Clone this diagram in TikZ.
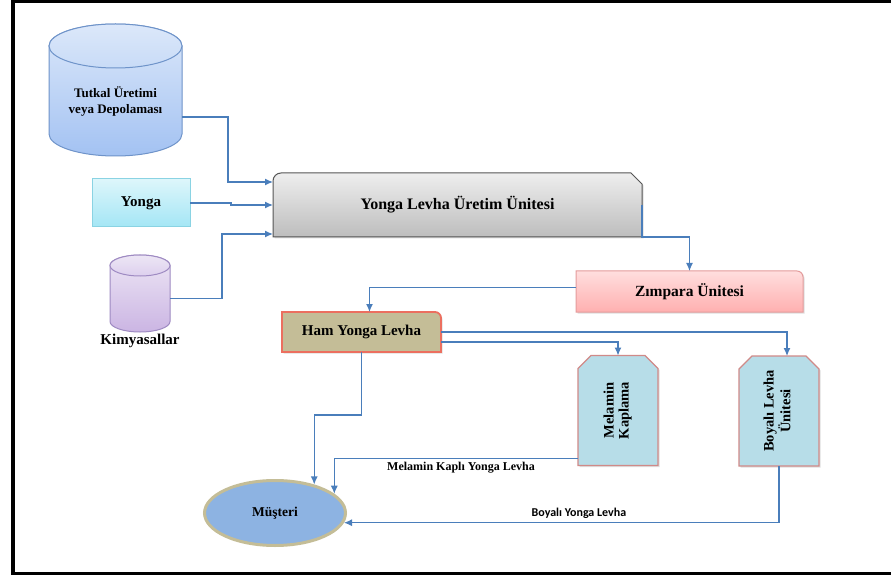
\documentclass[tikz,border=0pt]{standalone}
\usepackage{fontspec}
\setmainfont{Liberation Serif}
\newfontfamily\carlito{Carlito}
\usetikzlibrary{shapes.geometric,arrows.meta,backgrounds,shadows}

\definecolor{linkblue}{HTML}{4A7EBB}
\definecolor{tutkaltop}{HTML}{DCE8FA}
\definecolor{tutkalbot}{HTML}{A3C2F2}
\definecolor{tutkallid}{HTML}{C8DBF7}
\definecolor{tutkalrim}{HTML}{6E93C9}
\definecolor{yongatop}{HTML}{DDF6FB}
\definecolor{yongabot}{HTML}{A4E6F5}
\definecolor{yongarim}{HTML}{8AD3E3}
\definecolor{kimyatop}{HTML}{EDE6F5}
\definecolor{kimyabot}{HTML}{CBB5E3}
\definecolor{kimyalid}{HTML}{DDD0EE}
\definecolor{kimyarim}{HTML}{9E8AC2}
\definecolor{maintop}{HTML}{EEEEEE}
\definecolor{mainbot}{HTML}{BDBDBD}
\definecolor{mainrim}{HTML}{555555}
\definecolor{zimtop}{HTML}{FFDEDE}
\definecolor{zimbot}{HTML}{FFB0B0}
\definecolor{zimrim}{HTML}{E49C9C}
\definecolor{hamfill}{HTML}{C4BD97}
\definecolor{hamrim}{HTML}{EC6F5F}
\definecolor{towerfill}{HTML}{B7DDE8}
\definecolor{towerrim}{HTML}{D08A88}
\definecolor{musterifill}{HTML}{8DB3E2}
\definecolor{musteririm}{HTML}{C4BD97}

\tikzstyle{hole} = [rectangle, inner sep=0, outer sep=0, align=center]
\tikzstyle{flow} = [draw=linkblue, line width=1.2pt, -{Latex[length=8pt,width=7pt]}]
\tikzstyle{castshadow} = [drop shadow={opacity=0.25, shadow xshift=1.5pt, shadow yshift=-1.5pt}]
\tikzstyle{tower} = [draw=towerrim, line width=1.3pt, fill=towerfill]

\begin{document}
\begin{tikzpicture}[x=1pt,y=-1pt]
\useasboundingbox (0,0) rectangle (891,577);

% inputs
\node (tutkal) [hole, minimum width=133pt, minimum height=110pt, font=\fontsize{13}{16}\selectfont\bfseries] at (115.5,101) {Tutkal Üretimi\\veya Depolaması};
\node (yonga) [hole, minimum width=98pt, minimum height=48pt, font=\fontsize{15}{17}\selectfont\bfseries] at (141,203) {Yonga};
\node (kimya) [hole, minimum width=60pt, minimum height=66.5pt, label={[name=kimyaname, font=\fontsize{15}{17}\selectfont\bfseries, inner sep=2pt]below:Kimyasallar}] at (140,298.75) {};

% units
\node (ylu) [hole, minimum width=369pt, minimum height=64pt, font=\fontsize{16}{18}\selectfont\bfseries] at (457.5,205) {Yonga Levha Üretim Ünitesi};
\node (zimpara) [hole, minimum width=227pt, minimum height=41pt, font=\fontsize{15.5}{17}\selectfont\bfseries] at (689.5,291.5) {Zımpara Ünitesi};
\node (ham) [hole, minimum width=159pt, minimum height=40pt, font=\fontsize{15}{17}\selectfont\bfseries] at (361.5,332) {Ham Yonga Levha};
\node (melamin) [hole, minimum width=80pt, minimum height=110pt, font=\fontsize{14.5}{15}\selectfont\bfseries] at (618,410.5) {\rotatebox{90}{\begin{tabular}{@{}c@{}}Melamin\\Kaplama\end{tabular}}};
\node (boyali) [hole, minimum width=80pt, minimum height=110pt, font=\fontsize{14.5}{15}\selectfont\bfseries] at (779,411) {\rotatebox{90}{\begin{tabular}{@{}c@{}}Boyalı Levha\\Ünitesi\end{tabular}}};
\node (musteri) [ellipse, draw=musteririm, line width=3pt, fill=musterifill, minimum width=141pt, minimum height=65pt, inner sep=0, font=\fontsize{13.5}{16}\selectfont\bfseries] at (275,513) {Müşteri};

\begin{pgfonlayer}{background}
\fill[white] (0,0) rectangle (891,577);
% cylinders
\path[draw=tutkalrim, line width=1pt, top color=tutkaltop, bottom color=tutkalbot] (tutkal.north west) -- ([yshift=22pt]tutkal.south west) arc[start angle=180, end angle=360, x radius=66.5pt, y radius=22pt] -- (tutkal.north east) arc[start angle=0, end angle=180, x radius=66.5pt, y radius=22pt] -- cycle;
\path[draw=tutkalrim, line width=1pt, top color=tutkaltop, bottom color=tutkallid] (tutkal.north) ellipse [x radius=66.5pt, y radius=22pt];
\path[draw=kimyarim, line width=1pt, top color=kimyatop, bottom color=kimyabot] (kimya.north west) -- ([yshift=10.5pt]kimya.south west) arc[start angle=180, end angle=360, x radius=30pt, y radius=10.5pt] -- (kimya.north east) arc[start angle=0, end angle=180, x radius=30pt, y radius=10.5pt] -- cycle;
\path[draw=kimyarim, line width=1pt, top color=kimyatop, bottom color=kimyalid] (kimya.north) ellipse [x radius=30pt, y radius=10.5pt];
% boxes
\path[draw=yongarim, line width=1pt, top color=yongatop, bottom color=yongabot] (yonga.south west) rectangle (yonga.north east);
\path[draw=mainrim, line width=1pt, top color=maintop, bottom color=mainbot, castshadow] (ylu.south west) -- ([yshift=-8pt]ylu.north west) arc[start angle=180, end angle=90, radius=8pt] -- ([xshift=-11pt]ylu.north east) -- ([yshift=-11pt]ylu.north east) -- (ylu.south east) -- cycle;
\path[draw=zimrim, line width=1pt, top color=zimtop, bottom color=zimbot, castshadow] (zimpara.south west) -- (zimpara.north west) -- ([xshift=-6pt]zimpara.north east) arc[start angle=90, end angle=0, radius=6pt] -- (zimpara.south east) -- cycle;
\path[draw=hamrim, line width=1.8pt, fill=hamfill, castshadow] (ham.south west) -- (ham.north west) -- ([xshift=-6pt]ham.north east) arc[start angle=90, end angle=0, radius=6pt] -- (ham.south east) -- cycle;
\foreach \tw in {melamin,boyali}
  \path[tower, castshadow] (\tw.south west) -- ([yshift=-13pt]\tw.north west) -- ([xshift=13pt]\tw.north west) -- ([xshift=-13pt]\tw.north east) -- ([yshift=-13pt]\tw.north east) -- (\tw.south east) -- cycle;
\end{pgfonlayer}

% frame
\draw[line width=3.5pt] (13,1) rectangle (895,573.5);

% connectors
\draw[flow] ([yshift=-16pt]tutkal.east) -- ++(46,0) |- ([yshift=23pt]ylu.west);
\draw[flow] (yonga.east) -- ++(41,0) |- (ylu.west);
\draw[flow] (kimya.east) -- ++(52,0) |- ([yshift=-29pt]ylu.west);
\draw[flow] (ylu.east) -- (ylu.south east) -| (zimpara.north);
\draw[flow] ([yshift=4pt]zimpara.west) -| ([xshift=8pt]ham.north);
\draw[flow] (ham.east) -| ([xshift=8pt]boyali.north);
\draw[flow] ([yshift=-10pt]ham.east) -| (melamin.north);
\draw[flow] (ham.south) -- ++(0,63) -| (musteri.36);
\draw[flow] ([yshift=7pt]melamin.south west) -| node (melkapli) [pos=0.24, below, font=\fontsize{12}{14}\selectfont\bfseries] {Melamin Kaplı Yonga Levha} (musteri.18);
\draw[flow] (boyali.south) |- node (boyalitag) [pos=0.73, above, font=\carlito\fontsize{12}{14}\selectfont\bfseries] {Boyalı Yonga Levha} (musteri.-8);
\end{tikzpicture}
\end{document}
